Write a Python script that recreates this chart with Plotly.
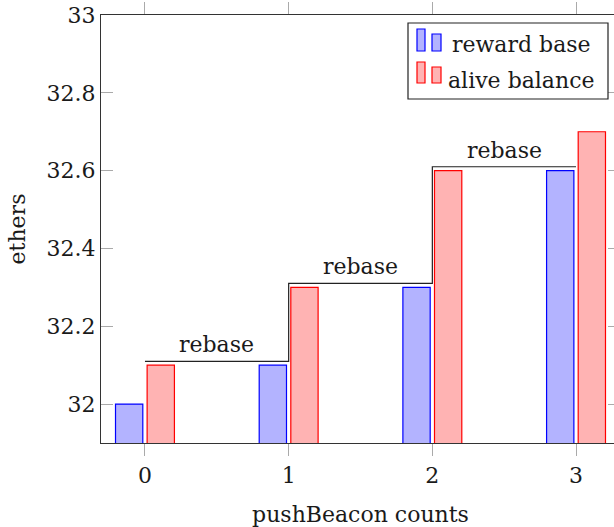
import plotly.graph_objects as go

# ---- data ----
counts = [0, 1, 2, 3]
reward_base = [32.0, 32.1, 32.3, 32.6]
alive_balance = [32.1, 32.3, 32.6, 32.7]
rebase_x = [0, 1, 1, 2, 2, 3]
rebase_y = [32.11, 32.11, 32.31, 32.31, 32.61, 32.61]
rebase_label_x = [0.5, 1.5, 2.5]
rebase_label_y = [32.11, 32.31, 32.61]
ytick_vals = [32.0, 32.2, 32.4, 32.6, 32.8, 33.0]
ytick_text = ["32", "32.2", "32.4", "32.6", "32.8", "33"]
xtick_text = ["0", "1", "2", "3"]
series_names = ["reward base", "alive balance"]

FONT = "DejaVu Serif"
FS = 22
W, H = 620, 527
L, R, T, B = 101, 0, 15, 84
PW, PH = W - L - R, H - T - B

BLUE_FILL, BLUE_LINE = "#b3b3ff", "#0000ff"
RED_FILL, RED_LINE = "#ffb3b3", "#ff0000"

fig = go.Figure()
fig.add_trace(go.Bar(x=counts, y=reward_base, width=0.19, offset=-0.205,
                     marker=dict(color=BLUE_FILL, line=dict(color=BLUE_LINE, width=1.2)),
                     name=series_names[0], showlegend=False))
fig.add_trace(go.Bar(x=counts, y=alive_balance, width=0.19, offset=0.015,
                     marker=dict(color=RED_FILL, line=dict(color=RED_LINE, width=1.2)),
                     name=series_names[1], showlegend=False))
fig.add_trace(go.Scatter(x=rebase_x, y=rebase_y, mode="lines",
                         line=dict(color="#222222", width=1.2), showlegend=False,
                         hoverinfo="skip"))

for lx, ly in zip(rebase_label_x, rebase_label_y):
    fig.add_annotation(x=lx, y=ly, text="rebase", showarrow=False, yanchor="bottom",
                       yshift=2, font=dict(family=FONT, size=FS, color="#1a1a1a"))

# ---- custom legend (pgfplots style) ----
def px(xp):
    return (xp - L) / PW

def py(yp):
    return (H - B - yp) / PH

shapes = []
shapes.append(dict(type="rect", xref="paper", yref="paper", x0=px(408), x1=px(608),
                   y0=py(99), y1=py(23), line=dict(color="#222", width=1.2),
                   fillcolor="white", layer="above"))
legend_rows = [(BLUE_FILL, BLUE_LINE, 29, 34, 51, 45),
               (RED_FILL, RED_LINE, 62, 67, 83, 80)]
for (fill, line, top1, top2, bot, ty), name in zip(legend_rows, series_names):
    shapes.append(dict(type="rect", xref="paper", yref="paper", x0=px(417), x1=px(425),
                       y0=py(bot), y1=py(top1), fillcolor=fill,
                       line=dict(color=line, width=1.2), layer="above"))
    shapes.append(dict(type="rect", xref="paper", yref="paper", x0=px(432), x1=px(441),
                       y0=py(bot), y1=py(top2), fillcolor=fill,
                       line=dict(color=line, width=1.2), layer="above"))
    fig.add_annotation(xref="paper", yref="paper", x=px(521), y=py(ty), text=name,
                       showarrow=False, xanchor="center", yanchor="middle",
                       font=dict(family=FONT, size=FS, color="#1a1a1a"))

fig.update_layout(
    width=W, height=H,
    margin=dict(l=L, r=R, t=T, b=B, pad=0),
    paper_bgcolor="white", plot_bgcolor="white",
    barmode="overlay",
    shapes=shapes,
    font=dict(family=FONT, size=FS, color="#1a1a1a"),
    xaxis=dict(range=[-0.306, 3.306], tickvals=counts, ticktext=xtick_text,
               ticks="outside", ticklen=12, tickcolor="#aaaaaa", tickwidth=1.2,
               showline=True, linecolor="#333", linewidth=1.2, mirror="allticks",
               showgrid=False, zeroline=False,
               title=dict(text="pushBeacon counts", font=dict(family=FONT, size=FS), standoff=20),
               tickfont=dict(family=FONT, size=FS)),
    yaxis=dict(range=[31.9, 33.0], tickvals=ytick_vals, ticktext=ytick_text,
               ticks="inside", ticklen=12, tickcolor="#aaaaaa", tickwidth=1.2,
               showline=True, linecolor="#333", linewidth=1.2, mirror="allticks",
               showgrid=False, zeroline=False,
               title=dict(text="ethers", font=dict(family=FONT, size=FS), standoff=14),
               tickfont=dict(family=FONT, size=FS)),
)

fig.write_html("out.html", config={"displayModeBar": False},
               post_script="document.body.style.margin='0';document.body.style.overflow='hidden';")
